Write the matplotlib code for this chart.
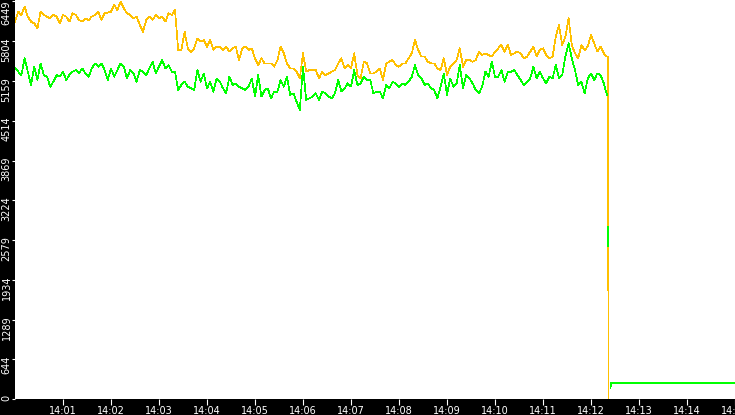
import numpy as np
import pandas as pd
import matplotlib
matplotlib.use("Agg")
import matplotlib.pyplot as plt
from matplotlib.transforms import offset_copy

# samples every 4 s from 14:00:00 up to the drop
orange_vals = [6122,6284,6230,6365,6203,6122,6094,6013,6284,6230,6203,6176,6230,6203,6094,6230,
               6203,6122,6257,6230,6149,6122,6176,6149,6203,6230,6284,6149,6257,6268,6284,6392,
               6311,6446,6338,6257,6230,6176,6203,6067,5959,6149,6203,6149,6230,6176,6203,
               6122,6257,6230,6311,5662,5662,5959,5689,5635,5689,5851,5797,5824,5716,5824,5662,
               5716,5716,5662,5716,5635,5689,5716,5499,5689,5716,5662,5689,5527,5418,5527,5445,
               5445,5445,5391,5499,5716,5608,5445,5364,5364,5310,5202,5608,5310,5337,5337,
               5337,5202,5310,5256,5283,5310,5337,5445,5527,5364,5418,5364,5608,5256,5202,5472,
               5445,5283,5283,5310,5364,5175,5445,5472,5499,5418,5391,5445,5445,5527,5608,5824,
               5662,5554,5554,5472,5445,5445,5364,5337,5527,5256,5391,5445,5499,5689,5391,
               5499,5499,5472,5499,5635,5581,5608,5581,5554,5635,5689,5743,5635,5743,5581,5608,
               5635,5608,5527,5554,5635,5716,5554,5662,5689,5581,5527,5554,5878,6067,5743,5878,
               6176,5743,5608,5527,5743,5662,5716,5905,5770,5635,5716,5608,5554]
green_vals = [5364,5310,5256,5527,5310,5094,5391,5175,5445,5256,5229,5067,5148,5256,5229,5310,
              5175,5256,5310,5337,5283,5364,5283,5229,5364,5445,5391,5445,5337,5175,5364,5229,
              5337,5445,5391,5202,5337,5283,5148,5337,5310,5256,5364,5472,5283,5391,5499,
              5364,5418,5310,5310,5013,5094,5148,5067,5040,5013,5337,5148,5283,5040,5148,4986,
              5202,5148,5040,4959,5229,5094,5121,5067,5040,5013,5067,5202,4905,5256,4905,5013,
              5040,4878,4986,4986,5175,5067,5229,4932,4959,4824,4688,5391,4851,4878,4905,
              4959,4851,4986,4959,4905,4878,4959,5175,4986,5040,5121,5067,5337,5094,5121,5229,
              5175,5175,4959,4986,4986,4878,5094,5040,5148,5121,5067,5121,5094,5148,5229,5418,
              5256,5202,5094,5121,5040,5013,4878,5067,5283,4932,5202,5067,5121,5418,5040,
              5256,5202,5121,5013,4959,5067,5310,5229,5472,5229,5229,5337,5148,5310,5310,5337,
              5256,5175,5094,5148,5202,5391,5202,5310,5202,5121,5229,5202,5418,5202,5256,5554,
              5770,5527,5337,5094,5148,4959,5202,5283,5175,5283,5256,5121,4932]

# after the drop (seconds after 14:00)
orange_tail_sec = [741, 742]
orange_tail_vals = [5554, 0]
green_tail_sec = [740.4, 741.5, 741.5, 743, 744.4, 745, 900]
green_tail_vals = [np.nan, 2790, 2480, np.nan, 178, 260, 260]

ytick_vals = [0, 644, 1289, 1934, 2579, 3224, 3869, 4514, 5159, 5804, 6449]
xtick_labels = ['14:01', '14:02', '14:03', '14:04', '14:05', '14:06', '14:07', '14:08',
                '14:09', '14:10', '14:11', '14:12', '14:13', '14:14', '14:15']

t0 = pd.Timestamp('2020-01-01 14:00:00')
t = t0 + pd.to_timedelta(np.arange(len(orange_vals)) * 4, unit='s')
t_or_tail = t0 + pd.to_timedelta(orange_tail_sec, unit='s')
t_gr_tail = t0 + pd.to_timedelta(green_tail_sec, unit='s')

ORANGE = '#ffc000'
GREEN = '#00ff00'

fig = plt.figure(figsize=(7.35, 4.15), dpi=100, facecolor='black')
ax = fig.add_axes([15/735, 16/415, 720/735, 399/415])
ax.set_facecolor('white')
for s in ax.spines.values():
    s.set_visible(False)

# orange first, green drawn over it
tt_o = t.append(t_or_tail)
oo = orange_vals + orange_tail_vals
ax.plot(tt_o, oo, color=ORANGE, lw=0.5, antialiased=False)
tt_g = t.append(t_gr_tail)
gg = green_vals + green_tail_vals
ax.plot(tt_g, gg, color=GREEN, lw=0.5, antialiased=False)

ax.set_xlim(t0, t0 + pd.Timedelta(minutes=15))
ax.set_ylim(0, 6473)

xt = [t0 + pd.Timedelta(minutes=i + 1) for i in range(len(xtick_labels))]
ax.set_xticks(xt, xtick_labels)
ax.tick_params(axis='x', colors='white', labelsize=7, length=4.5, width=0.8, pad=0.3)
ax.set_yticks(ytick_vals)
ax.tick_params(axis='y', colors='white', labelleft=False, length=2.2, width=0.8)

for v in ytick_vals:
    dy = 1 if v == ytick_vals[-1] else 4
    tr = offset_copy(ax.get_yaxis_transform(), fig=fig, x=-3.5, y=dy, units='dots')
    ax.text(0, v, str(v), transform=tr, rotation=90, ha='right', va='top',
            color='white', fontsize=7)

fig.savefig('out.png', dpi=100, facecolor='black')
